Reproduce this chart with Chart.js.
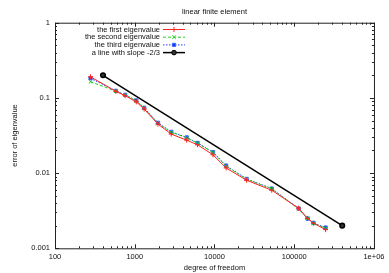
<!DOCTYPE html>
<html>
<head>
<meta charset="utf-8">
<script src="https://cdn.jsdelivr.net/npm/chart.js@4/dist/chart.umd.min.js"></script>
<style>
  body { margin: 0; background: #fff; }
  #wrap { width: 389px; height: 273px; }
</style>
</head>
<body>
<div id="wrap"><canvas id="chart" width="389" height="273"></canvas></div>
<script>
// degrees of freedom (x) and eigenvalue errors (y)
const dof = [279, 580, 757, 1045, 1313, 1958, 2870, 4480, 6130, 9580, 13990, 25250, 52200, 113500, 146800, 174300, 247300];
const firstEig  = [0.191, 0.122, 0.107, 0.0887, 0.0710, 0.0448, 0.0330, 0.0274, 0.0238, 0.0175, 0.0117, 0.00804, 0.00592, 0.00341, 0.00250, 0.00216, 0.00177];
const secondEig = [0.164, 0.123, 0.109, 0.0910, 0.0730, 0.0455, 0.0350, 0.0295, 0.0250, 0.0188, 0.0124, 0.00830, 0.00620, 0.00333, 0.00250, 0.00215, 0.00185];
const thirdEig  = [0.182, 0.124, 0.110, 0.0926, 0.0739, 0.0466, 0.0354, 0.0298, 0.0252, 0.0190, 0.0126, 0.00837, 0.00624, 0.00338, 0.00249, 0.00217, 0.00189];
const slopeX = [400, 400000];
const slopeY = [0.2, 0.002];

const xTicks = [100, 1000, 10000, 100000, 1000000];
const yTicks = [0.001, 0.01, 0.1, 1];

const FONT = "'Liberation Sans', Arial, Helvetica, sans-serif";
const pts = (xs, ys) => xs.map((x, i) => ({ x: x, y: ys[i] }));

// gnuplot-like frame with inward ticks on all four sides
const frameTicks = {
  id: 'frameTicks',
  afterDatasetsDraw(chart) {
    const { ctx, chartArea: a, scales } = chart;
    ctx.save();
    ctx.strokeStyle = '#222';
    ctx.lineWidth = 1;
    ctx.strokeRect(a.left + 0.5, a.top + 0.5, a.right - a.left, a.bottom - a.top);
    ctx.beginPath();
    for (let d = 100; d < 1e6 + 1; d *= 10) {
      for (let k = 1; k <= 9; k++) {
        const v = k * d;
        if (v > 1e6) break;
        const px = Math.round(scales.x.getPixelForValue(v)) + 0.5;
        const len = k === 1 ? 4 : 2;
        ctx.moveTo(px, a.bottom); ctx.lineTo(px, a.bottom - len);
        ctx.moveTo(px, a.top); ctx.lineTo(px, a.top + len);
      }
    }
    for (let d = 0.001; d < 1.0001; d *= 10) {
      for (let k = 1; k <= 9; k++) {
        const v = k * d;
        if (v > 1.0001) break;
        const py = Math.round(scales.y.getPixelForValue(v)) + 0.5;
        const len = k === 1 ? 4 : 2;
        ctx.moveTo(a.left, py); ctx.lineTo(a.left + len, py);
        ctx.moveTo(a.right, py); ctx.lineTo(a.right - len, py);
      }
    }
    ctx.stroke();
    ctx.restore();
  }
};

// legend inside the plot: text right aligned, line sample on the right
const keyBox = {
  id: 'keyBox',
  afterDatasetsDraw(chart) {
    const { ctx, chartArea: a } = chart;
    const textRight = a.left + 105;
    ctx.save();
    ctx.font = '7.5px ' + FONT;
    ctx.textAlign = 'right';
    ctx.textBaseline = 'middle';
    chart.data.datasets.forEach((ds, i) => {
      const y = a.top + 6.8 + i * 7.7;
      ctx.fillStyle = '#111';
      ctx.fillText(ds.label, textRight, y);
      ctx.strokeStyle = ds.borderColor;
      ctx.lineWidth = ds.borderWidth;
      ctx.setLineDash(ds.borderDash || []);
      ctx.beginPath();
      ctx.moveTo(textRight + 3, y);
      ctx.lineTo(textRight + 25, y);
      ctx.stroke();
      ctx.setLineDash([]);
      ctx.fillStyle = ds.pointBackgroundColor;
      ctx.strokeStyle = ds.pointBorderColor;
      ctx.lineWidth = 1;
      Chart.helpers.drawPoint(ctx, {
        pointStyle: ds.pointStyle, radius: ds.pointRadius, rotation: 0, borderWidth: 1
      }, textRight + 14, y);
    });
    ctx.restore();
  }
};

new Chart(document.getElementById('chart'), {
  type: 'line',
  data: {
    datasets: [
      {
        label: 'the first eigenvalue',
        data: pts(dof, firstEig),
        borderColor: '#ff2020', borderWidth: 1,
        pointStyle: 'cross', pointRadius: 2.5,
        pointBorderColor: '#ff2020', pointBackgroundColor: '#ff2020'
      },
      {
        label: 'the second eigenvalue',
        data: pts(dof, secondEig),
        borderColor: '#20d020', borderWidth: 1, borderDash: [3, 2],
        pointStyle: 'crossRot', pointRadius: 2.5,
        pointBorderColor: '#20d020', pointBackgroundColor: '#20d020'
      },
      {
        label: 'the third eigenvalue',
        data: pts(dof, thirdEig),
        borderColor: '#2040ff', borderWidth: 1, borderDash: [1.5, 1.5],
        pointStyle: 'rect', pointRadius: 2.3,
        pointBorderColor: '#4070ff', pointBackgroundColor: '#1030ff'
      },
      {
        label: 'a line with slope -2/3',
        data: pts(slopeX, slopeY),
        borderColor: '#000', borderWidth: 1.5,
        pointStyle: 'circle', pointRadius: 2.3,
        pointBorderColor: '#000', pointBackgroundColor: '#333'
      }
    ]
  },
  options: {
    responsive: false,
    animation: false,
    devicePixelRatio: 1,
    layout: { padding: { left: 0, right: 11, top: 0, bottom: 0 } },
    elements: { line: { tension: 0, fill: false } },
    plugins: {
      legend: { display: false },
      tooltip: { enabled: false },
      title: {
        display: true,
        fullSize: false,
        text: 'linear finite element',
        color: '#111',
        font: { family: FONT, size: 7.5, weight: 'normal' },
        padding: { top: 7, bottom: 6.7 }
      }
    },
    scales: {
      x: {
        type: 'logarithmic',
        min: 100, max: 1000000,
        grid: { display: false, drawTicks: false },
        border: { display: false },
        afterBuildTicks: s => { s.ticks = xTicks.map(v => ({ value: v })); },
        afterFit: s => { s.height = 24.7; },
        ticks: {
          padding: 4.5,
          maxRotation: 0,
          autoSkip: false,
          color: '#111',
          font: { family: FONT, size: 7.5 },
          callback: v => (v >= 1000000 ? '1e+06' : String(v))
        },
        title: {
          display: true,
          text: 'degree of freedom',
          color: '#111',
          font: { family: FONT, size: 7.5 },
          padding: { top: 0, bottom: 1 }
        }
      },
      y: {
        type: 'logarithmic',
        min: 0.001, max: 1,
        grid: { display: false, drawTicks: false },
        border: { display: false },
        afterBuildTicks: s => { s.ticks = yTicks.map(v => ({ value: v })); },
        afterFit: s => { s.width = 55; },
        ticks: {
          padding: 5,
          autoSkip: false,
          color: '#111',
          font: { family: FONT, size: 7.5 },
          callback: v => String(v)
        },
        title: {
          display: true,
          text: 'error of eigenvalue',
          color: '#111',
          font: { family: FONT, size: 7.5 },
          padding: { top: 10.5, bottom: 0 }
        }
      }
    }
  },
  plugins: [frameTicks, keyBox]
});
</script>
</body>
</html>
